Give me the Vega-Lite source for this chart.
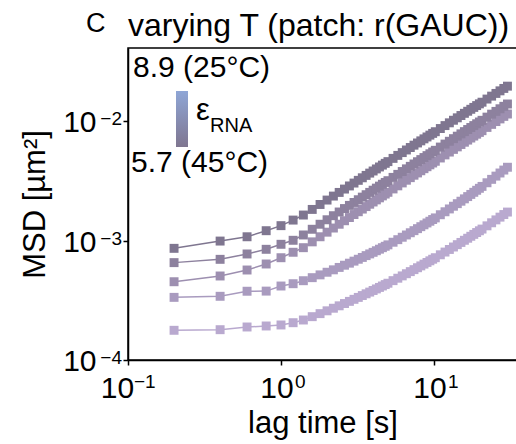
{
  "$schema": "https://vega.github.io/schema/vega-lite/v6.json",
  "width": 389,
  "height": 312,
  "autosize": {"type": "none"},
  "padding": {"left": 128, "top": 48, "right": 0, "bottom": 84},
  "background": "white",
  "config": {
    "font": "Liberation Sans",
    "view": {"stroke": "black", "strokeWidth": 1.5},
    "text": {"font": "Liberation Sans", "color": "black"},
    "axis": {
      "domainColor": "black", "domainWidth": 1.5,
      "tickColor": "black", "tickWidth": 1.5, "tickSize": 5,
      "labelColor": "black", "titleColor": "black", "grid": false,
      "labelFont": "Liberation Sans", "titleFont": "Liberation Sans",
      "titleFontWeight": "normal", "labelFontSize": 30, "titleFontSize": 31
    }
  },
  "datasets": {
    "msd": [
      {"t":0.2,"T45":0.000863,"T40":0.000655,"T35":0.000453,"T30":0.000335,"T25":0.0001774},
      {"t":0.4,"T45":0.000993,"T40":0.000698,"T35":0.000506,"T30":0.000342,"T25":0.0001795},
      {"t":0.6,"T45":0.001079,"T40":0.000774,"T35":0.000568,"T30":0.000377,"T25":0.0001891},
      {"t":0.8,"T45":0.001213,"T40":0.000847,"T35":0.000638,"T30":0.000378,"T25":0.0001928},
      {"t":1.0,"T45":0.001337,"T40":0.000933,"T35":0.000720,"T30":0.000417,"T25":0.0001966},
      {"t":1.2,"T45":0.001489,"T40":0.001008,"T35":0.000800,"T30":0.000436,"T25":0.0002054},
      {"t":1.4,"T45":0.001641,"T40":0.001117,"T35":0.000874,"T30":0.000462,"T25":0.0002164},
      {"t":1.6,"T45":0.001829,"T40":0.001247,"T35":0.000978,"T30":0.000490,"T25":0.0002308},
      {"t":1.8,"T45":0.002012,"T40":0.001374,"T35":0.001079,"T30":0.000517,"T25":0.0002447},
      {"t":2.0,"T45":0.002191,"T40":0.001498,"T35":0.001179,"T30":0.000544,"T25":0.0002584},
      {"t":2.2,"T45":0.002366,"T40":0.001620,"T35":0.001277,"T30":0.000570,"T25":0.0002716},
      {"t":2.4,"T45":0.002539,"T40":0.001740,"T35":0.001374,"T30":0.000597,"T25":0.0002846},
      {"t":2.6,"T45":0.002709,"T40":0.001860,"T35":0.001470,"T30":0.000623,"T25":0.0002974},
      {"t":2.8,"T45":0.002877,"T40":0.001977,"T35":0.001564,"T30":0.000648,"T25":0.0003101},
      {"t":3.0,"T45":0.003042,"T40":0.002092,"T35":0.001657,"T30":0.000674,"T25":0.0003225},
      {"t":3.2,"T45":0.003206,"T40":0.002205,"T35":0.001749,"T30":0.000699,"T25":0.0003347},
      {"t":3.4,"T45":0.003368,"T40":0.002319,"T35":0.001841,"T30":0.000724,"T25":0.0003469},
      {"t":3.6,"T45":0.003527,"T40":0.002430,"T35":0.001932,"T30":0.000750,"T25":0.0003589},
      {"t":3.8,"T45":0.003686,"T40":0.002541,"T35":0.002022,"T30":0.000775,"T25":0.0003708},
      {"t":4.0,"T45":0.003840,"T40":0.002651,"T35":0.002111,"T30":0.000799,"T25":0.0003825},
      {"t":4.2,"T45":0.003995,"T40":0.002759,"T35":0.002198,"T30":0.000824,"T25":0.0003942},
      {"t":4.4,"T45":0.004150,"T40":0.002867,"T35":0.002287,"T30":0.000849,"T25":0.0004059},
      {"t":4.6,"T45":0.004302,"T40":0.002974,"T35":0.002374,"T30":0.000874,"T25":0.0004173},
      {"t":4.8,"T45":0.004452,"T40":0.003079,"T35":0.002460,"T30":0.000898,"T25":0.0004287},
      {"t":5.0,"T45":0.004602,"T40":0.003185,"T35":0.002545,"T30":0.000923,"T25":0.0004401},
      {"t":5.4,"T45":0.004898,"T40":0.003394,"T35":0.002716,"T30":0.000971,"T25":0.0004626},
      {"t":5.8,"T45":0.005189,"T40":0.003598,"T35":0.002883,"T30":0.001020,"T25":0.0004848},
      {"t":6.2,"T45":0.005478,"T40":0.003802,"T35":0.003050,"T30":0.001069,"T25":0.0005070},
      {"t":6.6,"T45":0.005761,"T40":0.004002,"T35":0.003214,"T30":0.001117,"T25":0.0005288},
      {"t":7.0,"T45":0.006043,"T40":0.004201,"T35":0.003377,"T30":0.001166,"T25":0.0005506},
      {"t":7.4,"T45":0.006321,"T40":0.004397,"T35":0.003539,"T30":0.001214,"T25":0.0005721},
      {"t":7.8,"T45":0.006596,"T40":0.004592,"T35":0.003698,"T30":0.001262,"T25":0.0005936},
      {"t":8.2,"T45":0.006869,"T40":0.004786,"T35":0.003857,"T30":0.001311,"T25":0.0006149},
      {"t":8.6,"T45":0.007140,"T40":0.004977,"T35":0.004014,"T30":0.001359,"T25":0.0006363},
      {"t":9.0,"T45":0.007406,"T40":0.005166,"T35":0.004170,"T30":0.001408,"T25":0.0006573},
      {"t":9.4,"T45":0.007674,"T40":0.005355,"T35":0.004326,"T30":0.001456,"T25":0.0006783},
      {"t":9.8,"T45":0.007936,"T40":0.005541,"T35":0.004480,"T30":0.001505,"T25":0.0006994},
      {"t":10.2,"T45":0.008197,"T40":0.005726,"T35":0.004633,"T30":0.001553,"T25":0.0007203},
      {"t":11.0,"T45":0.008714,"T40":0.006094,"T35":0.004936,"T30":0.001651,"T25":0.0007620},
      {"t":11.8,"T45":0.009226,"T40":0.006457,"T35":0.005237,"T30":0.001748,"T25":0.0008032},
      {"t":12.6,"T45":0.009730,"T40":0.006815,"T35":0.005534,"T30":0.001846,"T25":0.0008445},
      {"t":13.4,"T45":0.010226,"T40":0.007168,"T35":0.005826,"T30":0.001945,"T25":0.0008855},
      {"t":14.2,"T45":0.010718,"T40":0.007519,"T35":0.006117,"T30":0.002044,"T25":0.0009265},
      {"t":15.0,"T45":0.011205,"T40":0.007866,"T35":0.006405,"T30":0.002143,"T25":0.0009672},
      {"t":15.8,"T45":0.011688,"T40":0.008210,"T35":0.006692,"T30":0.002243,"T25":0.0010081},
      {"t":16.6,"T45":0.012162,"T40":0.008551,"T35":0.006973,"T30":0.002343,"T25":0.0010486},
      {"t":17.4,"T45":0.012633,"T40":0.008889,"T35":0.007255,"T30":0.002443,"T25":0.0010891},
      {"t":18.2,"T45":0.013104,"T40":0.009224,"T35":0.007534,"T30":0.002545,"T25":0.0011300},
      {"t":19.0,"T45":0.013571,"T40":0.009557,"T35":0.007813,"T30":0.002646,"T25":0.0011706},
      {"t":19.8,"T45":0.014032,"T40":0.009886,"T35":0.008088,"T30":0.002749,"T25":0.0012112},
      {"t":20.6,"T45":0.014488,"T40":0.010214,"T35":0.008360,"T30":0.002852,"T25":0.0012515},
      {"t":22.2,"T45":0.015392,"T40":0.010862,"T35":0.008905,"T30":0.003060,"T25":0.0013325},
      {"t":23.8,"T45":0.016285,"T40":0.011503,"T35":0.009441,"T30":0.003268,"T25":0.0014135},
      {"t":25.4,"T45":0.017162,"T40":0.012134,"T35":0.009970,"T30":0.003479,"T25":0.0014946},
      {"t":27.0,"T45":0.018038,"T40":0.012762,"T35":0.010495,"T30":0.003694,"T25":0.0015758},
      {"t":28.6,"T45":0.018896,"T40":0.013381,"T35":0.011015,"T30":0.003910,"T25":0.0016569},
      {"t":30.2,"T45":0.019744,"T40":0.013993,"T35":0.011532,"T30":0.004128,"T25":0.0017380}
    ]
  },
  "layer": [
    {
      "data": {"name": "msd"},
      "transform": [{"fold": ["T45", "T40", "T35", "T30", "T25"], "as": ["series", "msd"]}],
      "encoding": {
        "x": {"field": "t", "type": "quantitative", "scale": {"type": "log", "domain": [0.1, 34.87], "nice": false},
              "axis": {"values": [0.1, 1, 10], "labelExpr": "'10'", "title": "lag time [s]", "labelPadding": 8, "titlePadding": 5, "labelFlush": false, "labelOverlap": false,
                       "labelOffset": {"condition": {"test": "datum.value < 0.5", "value": -11}, "value": -4.5}}},
        "y": {"field": "msd", "type": "quantitative", "scale": {"type": "log", "domain": [0.0001, 0.04124], "nice": false},
              "axis": {"values": [0.0001, 0.001, 0.01], "labelExpr": "'10'", "title": "MSD [µm²]", "labelPadding": 27, "titlePadding": 11, "labelOffset": 1.5, "labelOverlap": false}},
        "color": {"field": "series", "type": "nominal", "legend": null,
                  "scale": {"domain": ["T45", "T40", "T35", "T30", "T25"], "range": ["#7f7690", "#8d819e", "#9d8fb0", "#a99bbf", "#b9a9cf"]}}
      },
      "layer": [
        {"mark": {"type": "line", "strokeWidth": 1.5}, "encoding": {"detail": {"field": "series"}}},
        {"mark": {"type": "point", "shape": "square", "filled": true, "size": 80, "opacity": 1, "strokeWidth": 0},
         "encoding": {"order": {"field": "series", "sort": "ascending"}}}
      ]
    },
    {
      "data": {"values": [{"v": 0.1, "e": "−1"}]},
      "mark": {"type": "text", "fontSize": 19, "align": "left", "baseline": "alphabetic", "dx": 6, "dy": 28},
      "encoding": {
        "x": {"field": "v", "type": "quantitative"},
        "y": {"datum": 0.0001, "type": "quantitative"},
        "text": {"field": "e"}
      }
    },
    {
      "data": {"values": [{"v": 1, "e": "0"}, {"v": 10, "e": "1"}]},
      "mark": {"type": "text", "fontSize": 19, "align": "left", "baseline": "alphabetic", "dx": 14, "dy": 28},
      "encoding": {
        "x": {"field": "v", "type": "quantitative"},
        "y": {"datum": 0.0001, "type": "quantitative"},
        "text": {"field": "e"}
      }
    },
    {
      "data": {"values": [{"v": 0.0001, "e": "−4"}, {"v": 0.001, "e": "−3"}, {"v": 0.01, "e": "−2"}]},
      "mark": {"type": "text", "fontSize": 19, "align": "right", "baseline": "alphabetic", "dx": -6, "dy": 4},
      "encoding": {
        "x": {"datum": 0.1, "type": "quantitative"},
        "y": {"field": "v", "type": "quantitative"},
        "text": {"field": "e"}
      }
    },
    {
      "data": {"values": [{}]},
      "mark": {"type": "rect", "fill": {"gradient": "linear", "x1": 0, "y1": 0, "x2": 0, "y2": 1, "stops": [{"offset": 0, "color": "#8fa6d6"}, {"offset": 1, "color": "#7f7690"}]}},
      "encoding": {
        "x": {"datum": 0.2059, "type": "quantitative"},
        "x2": {"datum": 0.2467},
        "y": {"datum": 0.01798, "type": "quantitative"},
        "y2": {"datum": 0.006101}
      }
    },
    {
      "data": {"values": [{}]},
      "mark": {"type": "text", "text": "8.9 (25°C)", "fontSize": 30, "align": "left", "baseline": "alphabetic"},
      "encoding": {
        "x": {"datum": 0.1078, "type": "quantitative"},
        "y": {"datum": 0.02356, "type": "quantitative"}
      }
    },
    {
      "data": {"values": [{}]},
      "mark": {"type": "text", "text": "5.7 (45°C)", "fontSize": 30, "align": "left", "baseline": "alphabetic"},
      "encoding": {
        "x": {"datum": 0.1046, "type": "quantitative"},
        "y": {"datum": 0.003765, "type": "quantitative"}
      }
    },
    {
      "data": {"values": [{}]},
      "mark": {"type": "text", "text": "ε", "fontSize": 31, "align": "left", "baseline": "alphabetic"},
      "encoding": {
        "x": {"datum": 0.2782, "type": "quantitative"},
        "y": {"datum": 0.010273, "type": "quantitative"}
      }
    },
    {
      "data": {"values": [{}]},
      "mark": {"type": "text", "text": "RNA", "fontSize": 20, "align": "left", "baseline": "alphabetic"},
      "encoding": {
        "x": {"datum": 0.3435, "type": "quantitative"},
        "y": {"datum": 0.00815, "type": "quantitative"}
      }
    },
    {
      "data": {"values": [{}]},
      "mark": {"type": "text", "text": "C", "fontSize": 27, "align": "left", "baseline": "alphabetic"},
      "encoding": {
        "x": {"datum": 0.05313, "type": "quantitative"},
        "y": {"datum": 0.05614, "type": "quantitative"}
      }
    },
    {
      "data": {"values": [{}]},
      "mark": {"type": "text", "text": "varying T (patch: r(GAUC))", "fontSize": 32, "align": "left", "baseline": "alphabetic"},
      "encoding": {
        "x": {"datum": 0.1, "type": "quantitative"},
        "y": {"datum": 0.05197, "type": "quantitative"}
      }
    }
  ]
}
